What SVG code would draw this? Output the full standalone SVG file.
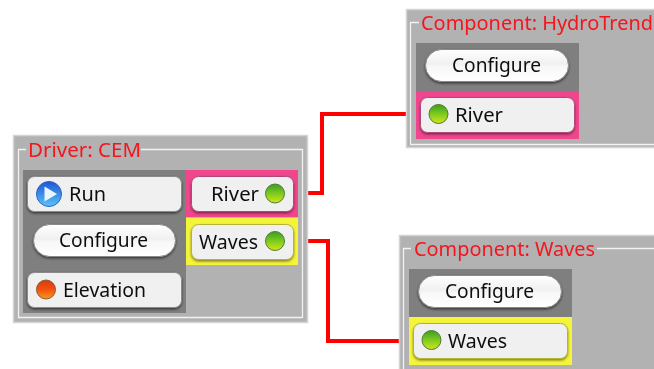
<svg xmlns="http://www.w3.org/2000/svg" width="654" height="369" viewBox="0 0 654 369">
<style>
.panel{fill:#b2b2b2;stroke:#d4d4d4;stroke-width:1.5}
.frame{fill:none;stroke:#f2f2f2;stroke-width:1.3}
.dark{fill:#7f7f7f}
.pink{fill:#f0478c}
.yellow{fill:#f4f43a}
.btn{fill:#f0f0f0;stroke-width:1}
.sh{stroke:#8a8a8a;filter:url(#shadow)}
.shp{stroke:#b04a78;filter:url(#shadowp)}
.shy{stroke:#b4b43a;filter:url(#shadowy)}
.pill{fill:url(#pillfill);stroke:#8a8a8a;stroke-width:1;filter:url(#shadow)}
text{font-family:"Noto Sans",sans-serif;font-size:19.5px;fill:#111;filter:url(#soft)}
.title{fill:#f5141e;font-size:20px}
.conn{fill:none;stroke:#f00;stroke-width:4}
</style>
<defs>
<filter id="soft" x="-5%" y="-20%" width="110%" height="140%"><feGaussianBlur stdDeviation="0.3"/></filter>
<filter id="shadow" x="-5%" y="-10%" width="110%" height="130%"><feDropShadow dx="0" dy="1.500" stdDeviation="1" flood-color="#333" flood-opacity=".9"/></filter>
<filter id="shadowp" x="-5%" y="-10%" width="110%" height="130%"><feDropShadow dx="0" dy="1.500" stdDeviation="1" flood-color="#7a1f48" flood-opacity=".9"/></filter>
<filter id="shadowy" x="-5%" y="-10%" width="110%" height="130%"><feDropShadow dx="0" dy="1.500" stdDeviation="1" flood-color="#77771a" flood-opacity=".9"/></filter>
<linearGradient id="pillfill" x1="0" y1="0" x2="0" y2="1"><stop offset="0" stop-color="#ffffff"/><stop offset=".45" stop-color="#f0f0f0"/><stop offset=".55" stop-color="#f8f8f8"/><stop offset="1" stop-color="#ffffff"/></linearGradient>
<linearGradient id="led" x1="0" y1="0" x2="0" y2="1"><stop offset="0" stop-color="#3d9c22"/><stop offset=".5" stop-color="#7ccb1e"/><stop offset="1" stop-color="#d4e41a"/></linearGradient>
<linearGradient id="ledr" x1="0" y1="0" x2="0" y2="1"><stop offset="0" stop-color="#d83a12"/><stop offset=".5" stop-color="#f4500f"/><stop offset="1" stop-color="#f59a1a"/></linearGradient>
<linearGradient id="blue" x1="0" y1="0" x2="0" y2="1"><stop offset="0" stop-color="#1c56d8"/><stop offset="1" stop-color="#5cc4f4"/></linearGradient>
</defs>
<g id="connectors">
<path class="conn" d="M308 193H322V114H406"/>
<path class="conn" d="M308 241H328V341H399"/>
</g>
<g id="driver">
<rect class="panel" x="13.500" y="135.500" width="294" height="187"/>
<path class="frame" d="M26 149.500H18.500V317.500H302.500V149.500H141"/>
<text class="title" x="28" y="156.500" textLength="113" lengthAdjust="spacingAndGlyphs">Driver: CEM</text>
<rect class="dark" x="23" y="170" width="163" height="143"/>
<rect class="pink" x="186" y="170" width="112" height="47.500"/>
<rect class="yellow" x="186" y="217.500" width="112" height="47.500"/>
<g id="driver-run"><rect class="btn sh" x="27.500" y="176.500" width="154" height="35" rx="7"/><circle cx="49" cy="194" r="12.500" fill="url(#blue)" stroke="#2a62c8"/><path d="M44.500 186.500L57 194L44.500 201.500Z" fill="#eaf6ff"/><text x="69" y="201" textLength="37" lengthAdjust="spacingAndGlyphs">Run</text></g>
<g id="driver-configure"><rect class="pill" x="33.500" y="224.500" width="142" height="32" rx="16"/><text x="59" y="247" textLength="89" lengthAdjust="spacingAndGlyphs">Configure</text></g>
<g id="driver-elevation"><rect class="btn sh" x="27.500" y="272.500" width="154" height="35" rx="7"/><circle cx="46" cy="289.500" r="9.500" fill="url(#ledr)" stroke="#8a5a30"/><text x="63" y="296.500" textLength="83" lengthAdjust="spacingAndGlyphs">Elevation</text></g>
<g id="driver-river"><rect class="btn shp" x="191.500" y="176.500" width="102" height="35" rx="7"/><text x="211" y="201" textLength="48" lengthAdjust="spacingAndGlyphs">River</text><circle cx="275" cy="193.500" r="9.500" fill="url(#led)" stroke="#4f7a33"/></g>
<g id="driver-waves"><rect class="btn shy" x="191.500" y="224.500" width="102" height="35" rx="7"/><text x="199" y="248.500" textLength="59" lengthAdjust="spacingAndGlyphs">Waves</text><circle cx="275" cy="241" r="9.500" fill="url(#led)" stroke="#4f7a33"/></g>
</g>
<g id="hydrotrend">
<rect class="panel" x="406.500" y="9.500" width="260" height="138"/>
<path class="frame" d="M419 22.500H410.500V144.500H670"/>
<text class="title" x="421" y="29.500" textLength="232" lengthAdjust="spacingAndGlyphs">Component: HydroTrend</text>
<rect class="dark" x="416" y="43" width="163" height="48"/>
<rect class="pink" x="416" y="91" width="163" height="48"/>
<g id="hydro-configure"><rect class="pill" x="425.500" y="49.500" width="143" height="32" rx="16"/><text x="452" y="72" textLength="89" lengthAdjust="spacingAndGlyphs">Configure</text></g>
<g id="hydro-river"><rect class="btn shp" x="420.500" y="97.500" width="154" height="35" rx="7"/><circle cx="438.500" cy="114" r="9.500" fill="url(#led)" stroke="#4f7a33"/><text x="455" y="121.500" textLength="48" lengthAdjust="spacingAndGlyphs">River</text></g>
</g>
<g id="waves">
<rect class="panel" x="399.500" y="235.500" width="270" height="150"/>
<path class="frame" d="M411 248.500H403.500V380M597 248.500H670"/>
<text class="title" x="414" y="255.500" textLength="181" lengthAdjust="spacingAndGlyphs">Component: Waves</text>
<rect class="dark" x="409" y="269" width="163" height="48"/>
<rect class="yellow" x="409" y="317" width="163" height="48"/>
<g id="waves-configure"><rect class="pill" x="418.500" y="275.500" width="143" height="32" rx="16"/><text x="445" y="298" textLength="89" lengthAdjust="spacingAndGlyphs">Configure</text></g>
<g id="waves-waves"><rect class="btn shy" x="413.500" y="323.500" width="154" height="35" rx="7"/><circle cx="431.500" cy="340" r="9.500" fill="url(#led)" stroke="#4f7a33"/><text x="448" y="347.500" textLength="59" lengthAdjust="spacingAndGlyphs">Waves</text></g>
</g>
</svg>
